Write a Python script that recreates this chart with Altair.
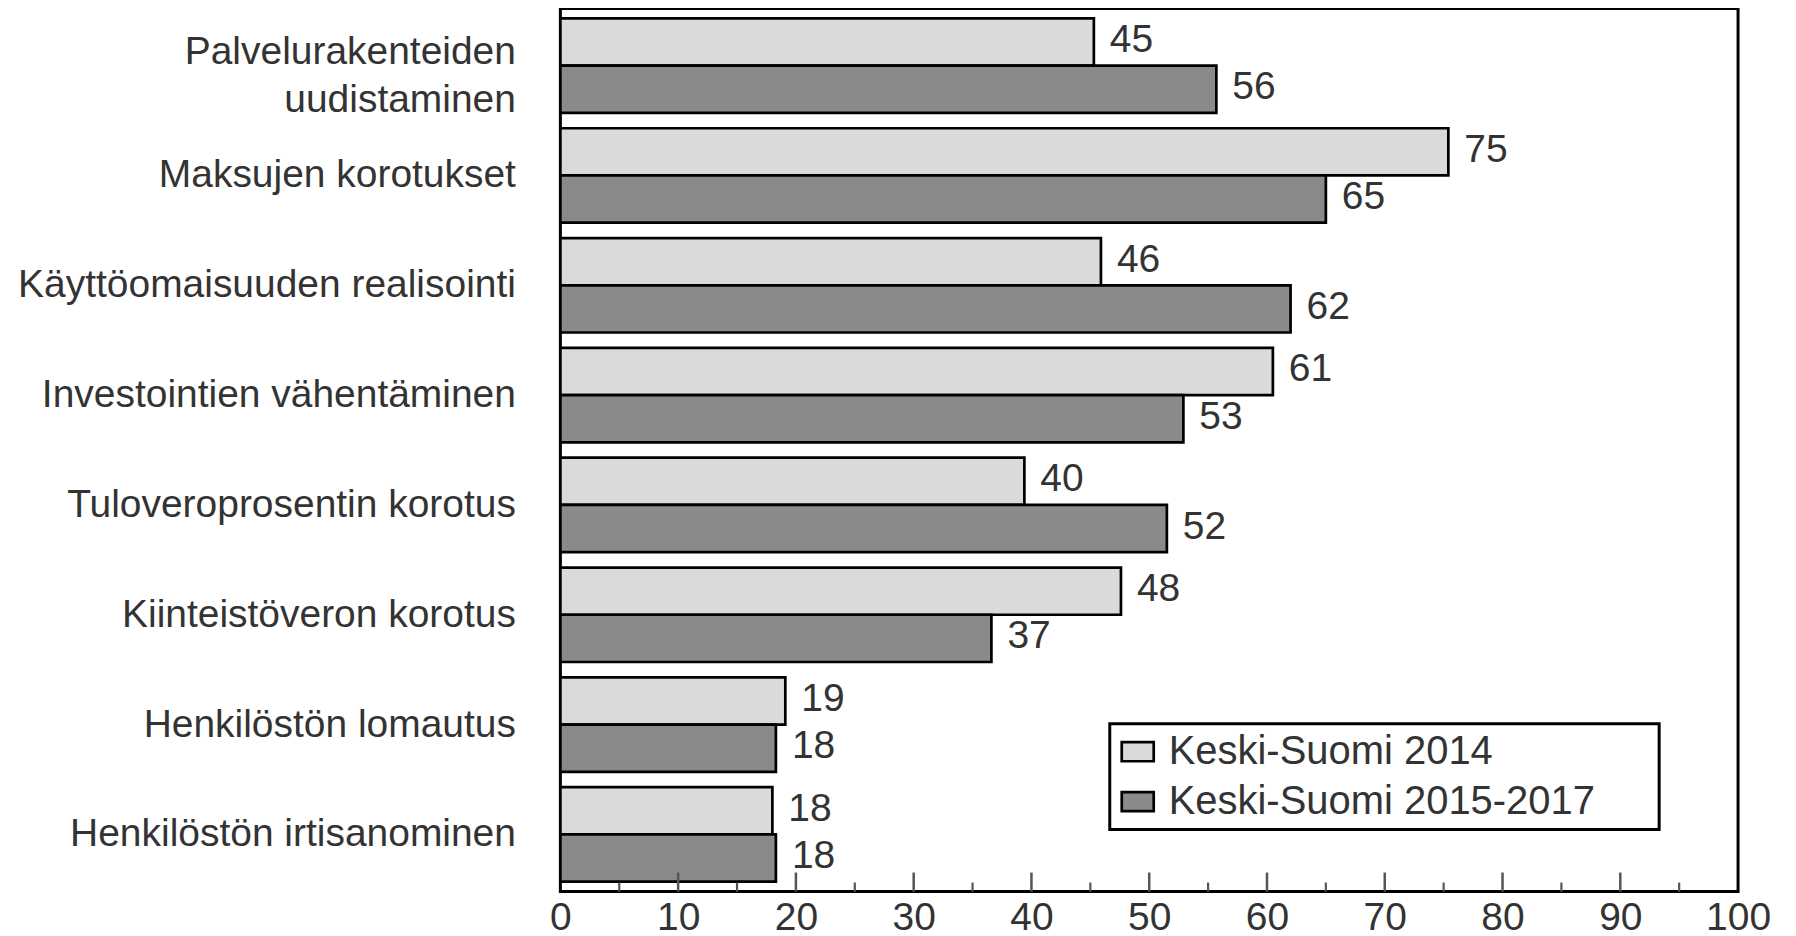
import altair as alt
import pandas as pd

categories = [
    "Palvelurakenteiden uudistaminen",
    "Maksujen korotukset",
    "Käyttöomaisuuden realisointi",
    "Investointien vähentäminen",
    "Tuloveroprosentin korotus",
    "Kiinteistöveron korotus",
    "Henkilöstön lomautus",
    "Henkilöstön irtisanominen",
]
series = ["Keski-Suomi 2014", "Keski-Suomi 2015-2017"]
# bar lengths
bars_2014 = [45.3, 75.4, 45.9, 60.5, 39.4, 47.6, 19.1, 18.0]
bars_2015_2017 = [55.7, 65.0, 62.0, 52.9, 51.5, 36.6, 18.3, 18.3]
# value labels as printed
labels_2014 = [45, 75, 46, 61, 40, 48, 19, 18]
labels_2015_2017 = [56, 65, 62, 53, 52, 37, 18, 18]
x_tick_labels = [0, 10, 20, 30, 40, 50, 60, 70, 80, 90, 100]
major_ticks = [10, 20, 30, 40, 50, 60, 70, 80, 90]
minor_ticks = [5, 15, 25, 35, 45, 55, 65, 75, 85, 95]
colors = ["#d9dadb", "#898a8b"]

rows = []
for i, c in enumerate(categories):
    rows.append({"kategoria": c, "sarja": series[0], "arvo": bars_2014[i], "teksti": str(labels_2014[i])})
    rows.append({"kategoria": c, "sarja": series[1], "arvo": bars_2015_2017[i], "teksti": str(labels_2015_2017[i])})
df = pd.DataFrame(rows)

W, H = 1179, 884
FONT = "Liberation Sans"
TXT = "#333333"

label_expr = ("datum.label == 'Palvelurakenteiden uudistaminen' ? "
              "['Palvelurakenteiden', 'uudistaminen'] : datum.label")

y_enc = alt.Y(
    "kategoria:N", sort=categories,
    scale=alt.Scale(paddingInner=0.14, paddingOuter=0.09),
    axis=alt.Axis(
        title=None, labelExpr=label_expr, labelFontSize=39, labelColor=TXT,
        labelPadding=45, labelLimit=700, labelLineHeight=48, ticks=False,
        domain=False, labelFont=FONT,
        labelOffset={"condition": {"test": "datum.value == 'Palvelurakenteiden uudistaminen'", "value": -14}, "value": 0},
    ),
)
yoff = alt.YOffset("sarja:N", sort=series, scale=alt.Scale(paddingInner=0, paddingOuter=0))
x_enc = alt.X(
    "arvo:Q", scale=alt.Scale(domain=[0, 100], nice=False),
    axis=alt.Axis(title=None, values=x_tick_labels, labelFontSize=39, labelColor=TXT,
                  labelPadding=7, labelFlush=False, labelOverlap=False, ticks=False,
                  domain=False, grid=False, format="d", labelFont=FONT),
)

legend = alt.Legend(
    title=None, orient="none", legendX=550, legendY=716,
    symbolType="M-1,-0.6L1,-0.6L1,0.6L-1,0.6Z", symbolSize=1024,
    symbolStrokeColor="black", symbolStrokeWidth=2.7,
    labelFontSize=40, labelColor=TXT, labelFont=FONT, labelOffset=11, labelLimit=900,
    padding=8, rowPadding=10, strokeColor="black", fillColor="white",
    labelExpr="datum.label + '\u00a0\u00a0\u00a0\u00a0\u00a0\u200b'",
)

bars = alt.Chart(df).mark_bar(stroke="black", strokeWidth=2.7).encode(
    x=x_enc, y=y_enc, yOffset=yoff,
    fill=alt.Fill("sarja:N", sort=series, scale=alt.Scale(domain=series, range=colors), legend=legend),
)

value_labels = alt.Chart(df).mark_text(
    align="left", baseline="middle", dx=16, dy=-2, fontSize=39, font=FONT, color=TXT
).encode(
    x=alt.X("arvo:Q"),
    y=alt.Y("kategoria:N", sort=categories),
    yOffset=alt.YOffset("sarja:N", sort=series),
    text=alt.Text("teksti:N"),
)

major = alt.Chart(pd.DataFrame({"arvo": major_ticks})).mark_rule(
    color="#555555", strokeWidth=2.5
).encode(x=alt.X("arvo:Q"), y=alt.value(H), y2=alt.value(H - 19))

minor = alt.Chart(pd.DataFrame({"arvo": minor_ticks})).mark_rule(
    color="#555555", strokeWidth=2.2
).encode(x=alt.X("arvo:Q"), y=alt.value(H), y2=alt.value(H - 9))

chart = alt.layer(bars, value_labels, major, minor).properties(
    width=W, height=H,
    autosize=alt.AutoSizeParams(type="none"),
    padding={"left": 553, "top": 0, "right": 50, "bottom": 42},
    background="white",
).configure(font=FONT).configure_view(
    stroke="black", strokeWidth=3
).configure_legend(strokeWidth=3)

chart.save("out.html", embed_options={"renderer": "svg", "actions": False})
